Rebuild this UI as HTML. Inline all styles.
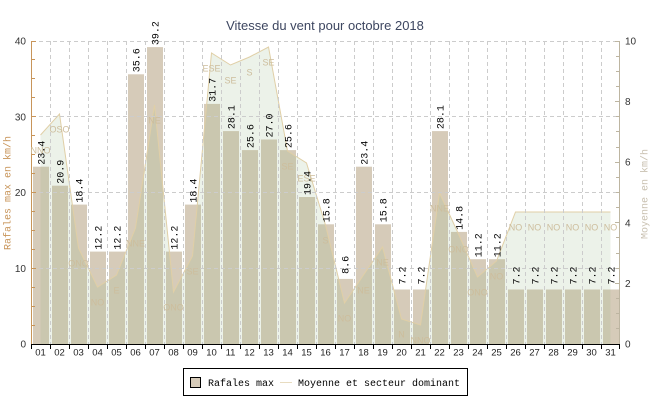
<!DOCTYPE html>
<html><head><meta charset="utf-8"><style>
html,body{margin:0;padding:0;background:#fff;}
svg{display:block;}
.t{font-family:"Liberation Sans",sans-serif;}
.m{font-family:"Liberation Mono",monospace;}
</style></head><body>
<svg width="650" height="400" viewBox="0 0 650 400" xmlns="http://www.w3.org/2000/svg">
<rect width="650" height="400" fill="#fff"/>
<text x="325" y="30" class="t" font-size="13" fill="#3d4660" text-anchor="middle">Vitesse du vent pour octobre 2018</text>

<!-- bars -->
<g fill="#d6cbb9">
<rect x="33" y="166.7" width="16" height="177.3"/>
<rect x="52" y="185.7" width="16" height="158.3"/>
<rect x="71" y="204.6" width="16" height="139.4"/>
<rect x="90" y="251.6" width="16" height="92.4"/>
<rect x="109" y="251.6" width="16" height="92.4"/>
<rect x="128" y="74.3" width="16" height="269.7"/>
<rect x="147" y="47.1" width="16" height="296.9"/>
<rect x="166" y="251.6" width="16" height="92.4"/>
<rect x="185" y="204.6" width="16" height="139.4"/>
<rect x="204" y="103.9" width="16" height="240.1"/>
<rect x="223" y="131.1" width="16" height="212.9"/>
<rect x="242" y="150.1" width="16" height="193.9"/>
<rect x="261" y="139.5" width="16" height="204.5"/>
<rect x="280" y="150.1" width="16" height="193.9"/>
<rect x="299" y="197" width="16" height="147"/>
<rect x="318" y="224.3" width="16" height="119.7"/>
<rect x="337" y="278.9" width="16" height="65.1"/>
<rect x="356" y="166.7" width="16" height="177.3"/>
<rect x="375" y="224.3" width="16" height="119.7"/>
<rect x="394" y="289.5" width="16" height="54.5"/>
<rect x="413" y="289.5" width="16" height="54.5"/>
<rect x="432" y="131.1" width="16" height="212.9"/>
<rect x="451" y="231.9" width="16" height="112.1"/>
<rect x="470" y="259.2" width="16" height="84.8"/>
<rect x="489" y="259.2" width="16" height="84.8"/>
<rect x="508" y="289.5" width="16" height="54.5"/>
<rect x="527" y="289.5" width="16" height="54.5"/>
<rect x="546" y="289.5" width="16" height="54.5"/>
<rect x="565" y="289.5" width="16" height="54.5"/>
<rect x="584" y="289.5" width="16" height="54.5"/>
<rect x="603" y="289.5" width="16" height="54.5"/>
</g>

<!-- area -->
<polygon fill="rgba(150,185,132,0.18)" points="40.5,344 40.5,135 59.5,114 78.5,248 97.5,287 116.5,275 135.5,228 154.5,105 173.5,292 192.5,256 211.5,53 230.5,65 249.5,57 268.5,47 287.5,151 306.5,163 325.5,225 344.5,303 363.5,275 382.5,247 401.5,319 420.5,325 439.5,193 458.5,234 477.5,277 496.5,261 515.5,212 534.5,212 553.5,212 572.5,212 591.5,212 610.5,212 610.5,344"/>
<polyline fill="none" stroke="#e0cfa6" stroke-width="1" points="40.5,135 59.5,114 78.5,248 97.5,287 116.5,275 135.5,228 154.5,105 173.5,292 192.5,256 211.5,53 230.5,65 249.5,57 268.5,47 287.5,151 306.5,163 325.5,225 344.5,303 363.5,275 382.5,247 401.5,319 420.5,325 439.5,193 458.5,234 477.5,277 496.5,261 515.5,212 534.5,212 553.5,212 572.5,212 591.5,212 610.5,212"/>

<!-- grid -->
<g stroke="#cccccc" stroke-width="1" stroke-dasharray="4,3" fill="none">
<path d="M32 41.5H619M32 116.5H619M32 192.5H619M32 268.5H619"/>
<path d="M50.5 41V344M69.5 41V344M88.5 41V344M107.5 41V344M126.5 41V344M145.5 41V344M164.5 41V344M183.5 41V344M202.5 41V344M221.5 41V344M240.5 41V344M259.5 41V344M278.5 41V344M297.5 41V344M316.5 41V344M335.5 41V344M354.5 41V344M373.5 41V344M392.5 41V344M411.5 41V344M430.5 41V344M449.5 41V344M468.5 41V344M487.5 41V344M506.5 41V344M525.5 41V344M544.5 41V344M563.5 41V344M582.5 41V344M601.5 41V344"/>
</g>

<!-- axes -->
<path d="M31.5 41V345" stroke="#c8955a" stroke-width="1"/>
<path d="M31 41.5H36M31 59.5H35M31 78.5H35M31 97.5H35M31 116.5H36M31 135.5H35M31 154.5H35M31 173.5H35M31 192.5H36M31 211.5H35M31 230.5H35M31 249.5H35M31 268.5H36M31 287.5H35M31 306.5H35M31 325.5H35" stroke="#c8955a" stroke-width="1"/>
<path d="M619.5 41V345" stroke="#bdb5a1" stroke-width="1"/>
<path d="M615 41.5H620M616 56.5H620M616 71.5H620M616 86.5H620M615 101.5H620M616 116.5H620M616 131.5H620M616 147.5H620M615 162.5H620M616 177.5H620M616 192.5H620M616 207.5H620M615 222.5H620M616 237.5H620M616 253.5H620M616 268.5H620M615 283.5H620M616 298.5H620M616 313.5H620M616 328.5H620" stroke="#bdb5a1" stroke-width="1"/>
<path d="M31 344.5H620" stroke="#000" stroke-width="1"/>
<path d="M31.5 344V349M50.5 344V349M69.5 344V349M88.5 344V349M107.5 344V349M126.5 344V349M145.5 344V349M164.5 344V349M183.5 344V349M202.5 344V349M221.5 344V349M240.5 344V349M259.5 344V349M278.5 344V349M297.5 344V349M316.5 344V349M335.5 344V349M354.5 344V349M373.5 344V349M392.5 344V349M411.5 344V349M430.5 344V349M449.5 344V349M468.5 344V349M487.5 344V349M506.5 344V349M525.5 344V349M544.5 344V349M563.5 344V349M582.5 344V349M601.5 344V349M619.5 344V349" stroke="#000" stroke-width="1"/>

<!-- left tick labels -->
<g class="t" font-size="10" fill="#333" text-anchor="end">
<text x="26" y="44.5">40</text>
<text x="26" y="120.3">30</text>
<text x="26" y="196">20</text>
<text x="26" y="271.8">10</text>
<text x="26" y="347.5">0</text>
</g>
<!-- right tick labels -->
<g class="t" font-size="10" fill="#333">
<text x="625" y="44.5">10</text>
<text x="625" y="105.1">8</text>
<text x="625" y="165.7">6</text>
<text x="625" y="226.3">4</text>
<text x="625" y="286.9">2</text>
<text x="625" y="347.5">0</text>
</g>

<!-- axis titles -->
<text class="m" font-size="10" fill="#c8955a" text-anchor="middle" transform="translate(10.5,193) rotate(-90)">Rafales max en km/h</text>
<text class="m" font-size="10" fill="#c9c1b1" text-anchor="middle" transform="translate(647.5,194) rotate(-90)">Moyenne en km/h</text>

<!-- x labels -->
<g class="t" font-size="9.5" fill="#222" text-anchor="middle">
<text x="40.5" y="355.5">01</text><text x="59.5" y="355.5">02</text><text x="78.5" y="355.5">03</text><text x="97.5" y="355.5">04</text><text x="116.5" y="355.5">05</text><text x="135.5" y="355.5">06</text><text x="154.5" y="355.5">07</text><text x="173.5" y="355.5">08</text><text x="192.5" y="355.5">09</text><text x="211.5" y="355.5">10</text><text x="230.5" y="355.5">11</text><text x="249.5" y="355.5">12</text><text x="268.5" y="355.5">13</text><text x="287.5" y="355.5">14</text><text x="306.5" y="355.5">15</text><text x="325.5" y="355.5">16</text><text x="344.5" y="355.5">17</text><text x="363.5" y="355.5">18</text><text x="382.5" y="355.5">19</text><text x="401.5" y="355.5">20</text><text x="420.5" y="355.5">21</text><text x="439.5" y="355.5">22</text><text x="458.5" y="355.5">23</text><text x="477.5" y="355.5">24</text><text x="496.5" y="355.5">25</text><text x="515.5" y="355.5">26</text><text x="534.5" y="355.5">27</text><text x="553.5" y="355.5">28</text><text x="572.5" y="355.5">29</text><text x="591.5" y="355.5">30</text><text x="610.5" y="355.5">31</text>
</g>

<!-- direction labels -->
<g class="t" font-size="9" fill="#cdbd9c" text-anchor="middle">
<text x="40.5" y="153.5">NNO</text>
<text x="59.5" y="132.5">OSO</text>
<text x="78.5" y="266.5">ONO</text>
<text x="97.5" y="305.5">NO</text>
<text x="116.5" y="293.5">E</text>
<text x="135.5" y="246.5">NNE</text>
<text x="154.5" y="123.5">NE</text>
<text x="173.5" y="310.5">ONO</text>
<text x="192.5" y="274.5">SE</text>
<text x="211.5" y="71.5">ESE</text>
<text x="230.5" y="83.5">SE</text>
<text x="249.5" y="75.5">S</text>
<text x="268.5" y="65.5">SE</text>
<text x="287.5" y="169.5">SE</text>
<text x="306.5" y="181.5">ESE</text>
<text x="325.5" y="243.5">S</text>
<text x="344.5" y="321.5">NO</text>
<text x="363.5" y="293.5">NE</text>
<text x="382.5" y="265.5">NE</text>
<text x="401.5" y="337.5">N</text>
<text x="420.5" y="343.5">NNO</text>
<text x="439.5" y="211.5">NNE</text>
<text x="458.5" y="252.5">ONO</text>
<text x="477.5" y="295.5">ONO</text>
<text x="496.5" y="279.5">NO</text>
<text x="515.5" y="230.5">NO</text>
<text x="534.5" y="230.5">NO</text>
<text x="553.5" y="230.5">NO</text>
<text x="572.5" y="230.5">NO</text>
<text x="591.5" y="230.5">NO</text>
<text x="610.5" y="230.5">NO</text>
</g>

<!-- value labels -->
<g class="m" font-size="10" fill="#000" text-anchor="middle">
<text transform="translate(44.5,152.7) rotate(-90)">23.4</text>
<text transform="translate(63.5,171.7) rotate(-90)">20.9</text>
<text transform="translate(82.5,190.6) rotate(-90)">18.4</text>
<text transform="translate(101.5,237.6) rotate(-90)">12.2</text>
<text transform="translate(120.5,237.6) rotate(-90)">12.2</text>
<text transform="translate(139.5,60.3) rotate(-90)">35.6</text>
<text transform="translate(158.5,33.1) rotate(-90)">39.2</text>
<text transform="translate(177.5,237.6) rotate(-90)">12.2</text>
<text transform="translate(196.5,190.6) rotate(-90)">18.4</text>
<text transform="translate(215.5,89.9) rotate(-90)">31.7</text>
<text transform="translate(234.5,117.1) rotate(-90)">28.1</text>
<text transform="translate(253.5,136.1) rotate(-90)">25.6</text>
<text transform="translate(272.5,125.5) rotate(-90)">27.0</text>
<text transform="translate(291.5,136.1) rotate(-90)">25.6</text>
<text transform="translate(310.5,183) rotate(-90)">19.4</text>
<text transform="translate(329.5,210.3) rotate(-90)">15.8</text>
<text transform="translate(348.5,264.9) rotate(-90)">8.6</text>
<text transform="translate(367.5,152.7) rotate(-90)">23.4</text>
<text transform="translate(386.5,210.3) rotate(-90)">15.8</text>
<text transform="translate(405.5,275.5) rotate(-90)">7.2</text>
<text transform="translate(424.5,275.5) rotate(-90)">7.2</text>
<text transform="translate(443.5,117.1) rotate(-90)">28.1</text>
<text transform="translate(462.5,217.9) rotate(-90)">14.8</text>
<text transform="translate(481.5,245.2) rotate(-90)">11.2</text>
<text transform="translate(500.5,245.2) rotate(-90)">11.2</text>
<text transform="translate(519.5,275.5) rotate(-90)">7.2</text>
<text transform="translate(538.5,275.5) rotate(-90)">7.2</text>
<text transform="translate(557.5,275.5) rotate(-90)">7.2</text>
<text transform="translate(576.5,275.5) rotate(-90)">7.2</text>
<text transform="translate(595.5,275.5) rotate(-90)">7.2</text>
<text transform="translate(614.5,275.5) rotate(-90)">7.2</text>
</g>

<!-- legend -->
<rect x="183.5" y="368.5" width="284" height="27" fill="#fff" stroke="#000" stroke-width="1"/>
<rect x="190.5" y="377.5" width="10" height="10" fill="#d6cbb9" stroke="#000" stroke-width="1"/>
<text x="208" y="386" class="m" font-size="10" fill="#000">Rafales max</text>
<path d="M280 382.5H292" stroke="#e8dcc0" stroke-width="1"/>
<text x="298" y="386" class="m" font-size="10" fill="#000">Moyenne et secteur dominant</text>
</svg>
</body></html>
